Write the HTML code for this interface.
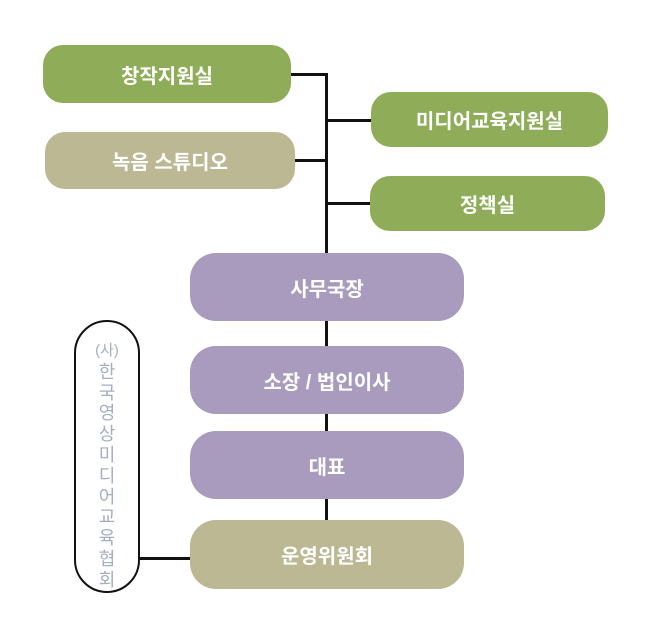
<!DOCTYPE html>
<html><head><meta charset="utf-8"><style>
body{margin:0;width:651px;height:640px;background:#fff;position:relative;overflow:hidden;font-family:"Liberation Sans","Noto Sans CJK KR",sans-serif}
.b{position:absolute;display:flex;align-items:center;justify-content:center;color:#fff;font-weight:bold;font-size:20px;border-radius:20px}
.g{background:#8fad59}.k{background:#bbb893}.p{background:#a99bbd;border-radius:26px}
.l{position:absolute;background:#111}
.v{position:absolute;left:74px;top:320px;width:66px;height:273px;border:2px solid #111;border-radius:34px;color:#a5afc2;font-size:18px;line-height:20.8px;text-align:center;padding-top:17px;box-sizing:border-box}
</style></head><body>
<div class="l" style="left:291px;top:73px;width:36px;height:3px"></div>
<div class="l" style="left:325px;top:73px;width:3px;height:448px"></div>
<div class="l" style="left:327px;top:119px;width:45px;height:3px"></div>
<div class="l" style="left:295px;top:159px;width:31px;height:3px"></div>
<div class="l" style="left:327px;top:202px;width:44px;height:3px"></div>
<div class="l" style="left:140px;top:557px;width:50px;height:3px"></div>
<div class="b g" style="left:43px;top:45px;width:248px;height:58px">창작지원실</div>
<div class="b k" style="left:45px;top:132px;width:250px;height:57px">녹음 스튜디오</div>
<div class="b g" style="left:371px;top:92px;width:237px;height:55px">미디어교육지원실</div>
<div class="b g" style="left:370px;top:176px;width:235px;height:55px">정책실</div>
<div class="b p" style="left:190px;top:253px;width:274px;height:68px">사무국장</div>
<div class="b p" style="left:190px;top:346px;width:274px;height:68px">소장 / 법인이사</div>
<div class="b p" style="left:190px;top:431px;width:274px;height:68px">대표</div>
<div class="b k" style="left:190px;top:520px;width:274px;height:69px;border-radius:26px">운영위원회</div>
<div class="v"><span style="font-size:15px">(사)</span><br>한<br>국<br>영<br>상<br>미<br>디<br>어<br>교<br>육<br>협<br>회</div>
</body></html>
